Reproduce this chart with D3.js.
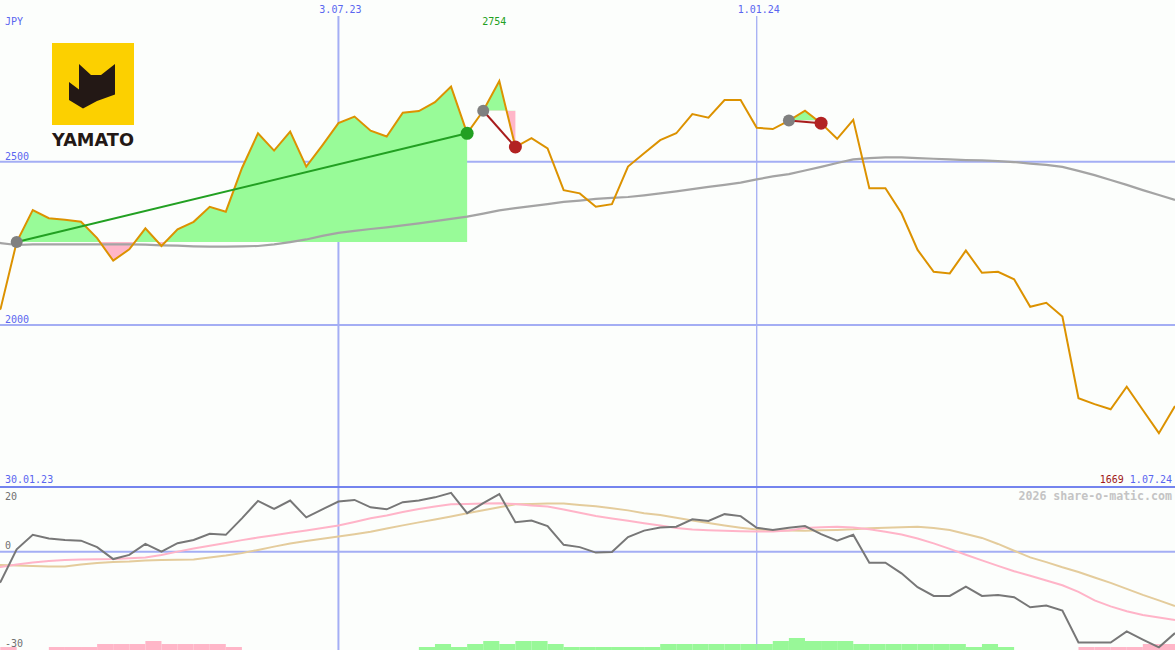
<!DOCTYPE html>
<html><head><meta charset="utf-8">
<script src="https://cdn.jsdelivr.net/npm/d3@7"></script>
<style>html,body{margin:0;padding:0;background:#fcfefc;overflow:hidden}svg{display:block}</style>
</head><body>
<svg id="chart" width="1175" height="650"></svg>
<script>
const dates = ["2023-01-30","2023-02-06","2023-02-13","2023-02-20","2023-02-27","2023-03-06","2023-03-13","2023-03-20","2023-03-27","2023-04-03","2023-04-10","2023-04-17","2023-04-24","2023-05-01","2023-05-08","2023-05-15","2023-05-22","2023-05-29","2023-06-05","2023-06-12","2023-06-19","2023-06-26","2023-07-03","2023-07-10","2023-07-17","2023-07-24","2023-07-31","2023-08-07","2023-08-14","2023-08-21","2023-08-28","2023-09-04","2023-09-11","2023-09-18","2023-09-25","2023-10-02","2023-10-09","2023-10-16","2023-10-23","2023-10-30","2023-11-06","2023-11-13","2023-11-20","2023-11-27","2023-12-04","2023-12-11","2023-12-18","2023-12-25","2024-01-01","2024-01-08","2024-01-15","2024-01-22","2024-01-29","2024-02-05","2024-02-12","2024-02-19","2024-02-26","2024-03-04","2024-03-11","2024-03-18","2024-03-25","2024-04-01","2024-04-08","2024-04-15","2024-04-22","2024-04-29","2024-05-06","2024-05-13","2024-05-20","2024-05-27","2024-06-03","2024-06-10","2024-06-17","2024-06-24","2024-07-01"];
const closePrice = [2020,2050,2254,2352,2327,2322,2316,2266,2197,2232,2296,2242,2293,2316,2362,2347,2480,2587,2534,2592,2485,2550,2618,2638,2595,2577,2650,2655,2682,2730,2587,2656,2747,2545,2572,2541,2413,2403,2362,2370,2485,2526,2566,2587,2646,2635,2689,2689,2604,2600,2626,2656,2618,2570,2628,2419,2419,2342,2230,2163,2158,2228,2160,2163,2140,2056,2068,2026,1776,1758,1742,1811,1740,1669,1752];
const movingAvg = [2257,2251,2245,2247,2247,2247,2247,2247,2247,2247,2246,2244,2243,2241,2240,2240,2241,2242,2247,2254,2262,2273,2282,2288,2294,2299,2305,2311,2318,2325,2332,2341,2351,2358,2364,2370,2377,2381,2386,2389,2392,2397,2403,2409,2416,2423,2429,2436,2446,2455,2462,2473,2484,2496,2507,2511,2513,2513,2511,2509,2507,2505,2504,2502,2499,2494,2490,2484,2472,2459,2444,2429,2413,2398,2383];
const momentum = [-12,-9.3,0.7,5.2,4.1,3.6,3.4,1.4,-2.3,-1.0,2.4,0,2.6,3.6,5.5,5.2,10.3,15.7,13.2,15.8,10.6,13.1,15.5,16.0,13.7,13.1,15.3,15.8,16.8,18.2,11.9,15.0,17.8,9.1,9.6,7.9,2.1,1.4,-0.3,-0.1,4.5,6.5,7.5,7.7,10.0,9.5,11.6,11.0,7.4,6.7,7.4,7.9,5.4,3.4,5.2,-3.4,-3.4,-6.7,-11.0,-13.7,-13.7,-10.8,-13.7,-13.4,-14.1,-17.2,-16.7,-18.2,-28.1,-28.1,-28.1,-24.7,-27.2,-29.6,-25.2];
const fastAvg = [-5.35,-4.73,-3.96,-3.34,-2.88,-2.57,-2.47,-2.35,-2.26,-2.04,-1.79,-1.02,0,0.99,1.82,2.69,3.56,4.36,5.07,5.85,6.56,7.33,8.07,9.19,10.33,11.2,12.28,13.2,13.95,14.66,14.75,14.88,14.97,14.75,14.29,13.98,13.05,12.06,11.04,10.27,9.56,8.78,8.1,7.33,6.84,6.65,6.5,6.34,6.25,6.25,6.56,7.33,7.58,7.7,7.49,6.93,6.16,5.32,4.08,2.57,0.84,-0.96,-2.69,-4.42,-6.06,-7.45,-8.91,-10.42,-12.47,-15.09,-16.95,-18.43,-19.58,-20.38,-21.13];
const slowAvg = [-4.11,-4.11,-4.27,-4.42,-4.58,-4.58,-3.96,-3.5,-3.19,-3.03,-2.75,-2.6,-2.51,-2.41,-1.79,-1.21,-0.46,0.53,1.55,2.54,3.31,3.99,4.67,5.38,6.16,7.18,8.13,9.06,9.96,10.89,11.88,12.81,13.73,14.63,14.75,14.88,14.91,14.44,14.01,13.42,12.77,11.91,11.35,10.5,9.65,8.84,8.1,7.42,6.84,6.65,6.53,6.43,6.59,6.71,6.93,7.27,7.42,7.58,7.7,7.33,6.71,5.47,4.24,2.38,0.28,-1.79,-3.25,-4.83,-6.28,-7.98,-9.68,-11.54,-13.39,-15.09,-16.8];
const histogram = [-1,-1,0,0,-1,-1,-1,-2,-2,-2,-3,-2,-2,-2,-2,-1,0,0,0,0,0,0,0,0,0,0,0,1,2,1,2,3,2,3,3,2,1,1,1,1,1,1,2,2,2,2,2,2,2,3,4,3,3,3,2,2,2,2,2,2,2,1,2,1,0,0,0,0,-1,-1,-1,-1,-2,-2];
const trendStart = [2,31,50];
const trendEnd = [30,33,52];
const priceTicks = [2500,2000];
const lowerTicks = [20,0,-30];
const dateMarks = ["2023-07-03","2024-01-01"];
const currency = "JPY";
const highLabel = 2754;
const lowLabel = 1669;
const watermark = "2026 share-o-matic.com";
const companyName = "YAMATO";

const W = 1175, H = 650, P_BOTTOM = 487;
const parse = d3.timeParse("%Y-%m-%d");
const fmt = d3.timeFormat("%-d.%m.%y");
const D = dates.map(parse);
const svg = d3.select("#chart");
const mono = "'DejaVu Sans Mono', monospace";

const x = d3.scaleTime().domain([D[0], D[D.length-1]]).range([-15.5, 1175]);
const y = d3.scaleLinear().domain([1504.2, 2995]).range([P_BOTTOM, 0]);
const y2 = d3.scaleLinear().domain([-30, 20]).range([648.6, 487]);
const yb = d3.scaleLinear().domain([0, 4]).range([650, 638]);

svg.append("rect").attr("width", W).attr("height", H).attr("fill", "#fcfefc");
const defs = svg.append("defs");
defs.append("clipPath").attr("id","cpTop").append("rect").attr("x",0).attr("y",0).attr("width",W).attr("height",P_BOTTOM);
defs.append("clipPath").attr("id","cpBot").append("rect").attr("x",0).attr("y",P_BOTTOM).attr("width",W).attr("height",H-P_BOTTOM);

const grid = "#a4aef4";
svg.selectAll(".hg").data(priceTicks).enter().append("line")
  .attr("x1",0).attr("x2",W).attr("y1",d=>y(d)).attr("y2",d=>y(d))
  .attr("stroke",grid).attr("stroke-width",2);
svg.append("line").attr("x1",0).attr("x2",W).attr("y1",y2(0)).attr("y2",y2(0)).attr("stroke",grid).attr("stroke-width",2);
svg.selectAll(".vg").data(dateMarks).enter().append("line")
  .attr("x1",d=>x(parse(d))).attr("x2",d=>x(parse(d))).attr("y1",16).attr("y2",H)
  .attr("stroke",grid).attr("stroke-width",(d,i)=>i===0?2:1.3);

const gBot = svg.append("g").attr("clip-path","url(#cpBot)");
gBot.selectAll(".bar").data(histogram).enter().append("rect")
  .attr("x",(d,i)=>x(D[i])).attr("width",(d,i)=>x(D[i+1])-x(D[i]))
  .attr("y",d=>yb(Math.abs(d))).attr("height",d=>yb(0)-yb(Math.abs(d)))
  .attr("fill",d=>d<0?"#ffb6c8":"#98f898");

const gTop = svg.append("g").attr("clip-path","url(#cpTop)");
trendStart.forEach((s,k)=>{
  const e = trendEnd[k];
  const base = closePrice[s];
  const idx = d3.range(s, e+1);
  const area = d3.area().x(i=>x(D[i])).y0(y(base)).y1(i=>y(closePrice[i]));
  defs.append("clipPath").attr("id","up"+k).append("rect").attr("x",0).attr("y",0).attr("width",W).attr("height",y(base));
  defs.append("clipPath").attr("id","dn"+k).append("rect").attr("x",0).attr("y",y(base)).attr("width",W).attr("height",P_BOTTOM-y(base));
  gTop.append("path").attr("d",area(idx)).attr("fill","#98fb98").attr("clip-path","url(#up"+k+")");
  gTop.append("path").attr("d",area(idx)).attr("fill","#ffb6c8").attr("clip-path","url(#dn"+k+")");
});

gTop.append("path").attr("d", d3.line().x((d,i)=>x(D[i])).y(d=>y(d))(movingAvg))
  .attr("fill","none").attr("stroke","#a4a4a4").attr("stroke-width",2.2);
gTop.append("path").attr("d", d3.line().x((d,i)=>x(D[i])).y(d=>y(d))(closePrice))
  .attr("fill","none").attr("stroke","#dc9200").attr("stroke-width",2);

trendStart.forEach((s,k)=>{
  const e = trendEnd[k];
  const up = closePrice[e] >= closePrice[s];
  const col = up ? "#22a022" : "#a81c1c";
  gTop.append("line").attr("x1",x(D[s])).attr("y1",y(closePrice[s])).attr("x2",x(D[e])).attr("y2",y(closePrice[e]))
    .attr("stroke",col).attr("stroke-width",2);
  gTop.append("circle").attr("cx",x(D[s])).attr("cy",y(closePrice[s])).attr("r",6).attr("fill","#808080");
  gTop.append("circle").attr("cx",x(D[e])).attr("cy",y(closePrice[e])).attr("r",6.5).attr("fill",up?"#22a022":"#b22222");
});

const line2 = d3.line().x((d,i)=>x(D[i])).y(d=>y2(d));
gBot.append("path").attr("d",line2(slowAvg)).attr("fill","none").attr("stroke","#e4cc9c").attr("stroke-width",2);
gBot.append("path").attr("d",line2(fastAvg)).attr("fill","none").attr("stroke","#ffb4c8").attr("stroke-width",2);
gBot.append("path").attr("d",line2(momentum)).attr("fill","none").attr("stroke","#777777").attr("stroke-width",2);

svg.append("line").attr("x1",0).attr("x2",W).attr("y1",487).attr("y2",487).attr("stroke","#7484ee").attr("stroke-width",2);

const blue = "#5a66f0";
svg.append("text").attr("x",5).attr("y",25).text(currency).attr("font-family",mono).attr("font-size",10).attr("fill",blue);
svg.selectAll(".pt").data(priceTicks).enter().append("text")
  .attr("x",5).attr("y",d=>y(d)-2).text(d=>d).attr("font-family",mono).attr("font-size",10).attr("fill",blue);
svg.selectAll(".dl").data(dateMarks).enter().append("text")
  .attr("x",d=>x(parse(d))+2).attr("y",13).attr("text-anchor","middle").text(d=>fmt(parse(d)))
  .attr("font-family",mono).attr("font-size",10).attr("fill",blue);
const iMax = d3.maxIndex(closePrice);
svg.append("text").attr("x",x(D[iMax])-5).attr("y",25).attr("text-anchor","middle").text(highLabel)
  .attr("font-family",mono).attr("font-size",10).attr("fill","#22a022");
svg.append("text").attr("x",5).attr("y",483).text(fmt(D[0])).attr("font-family",mono).attr("font-size",10).attr("fill",blue);
const rt = svg.append("text").attr("x",1172).attr("y",483).attr("text-anchor","end").attr("font-family",mono).attr("font-size",10);
rt.append("tspan").text(lowLabel+" ").attr("fill","#a01818");
rt.append("tspan").text(fmt(D[D.length-1])).attr("fill",blue);
svg.append("text").attr("x",1172).attr("y",500).attr("text-anchor","end").text(watermark)
  .attr("font-family",mono).attr("font-size",11.6).attr("font-weight","bold").attr("fill","#c4c4c4");
svg.selectAll(".lt").data(lowerTicks).enter().append("text")
  .attr("x",5).attr("y",(d,i)=> i===0 ? y2(d)+13 : (i===2 ? y2(d)-2 : y2(d)-2.5)).text(d=>d)
  .attr("font-family",mono).attr("font-size",10).attr("fill","#707070");

const logo = svg.append("g");
logo.append("rect").attr("x",52).attr("y",43).attr("width",82).attr("height",82).attr("fill","#fcd000");
logo.append("polygon").attr("points","79,64 91,75 101,75 115,64 115,94.5 97,101 83,108.5 69,100 69,82 79,89.5").attr("fill","#231815");
logo.append("text").attr("x",52).attr("y",146).text(companyName).attr("font-family","'DejaVu Sans', sans-serif")
  .attr("font-weight","bold").attr("font-size",18).attr("textLength",82).attr("lengthAdjust","spacingAndGlyphs").attr("fill","#231815");
</script>
</body></html>
